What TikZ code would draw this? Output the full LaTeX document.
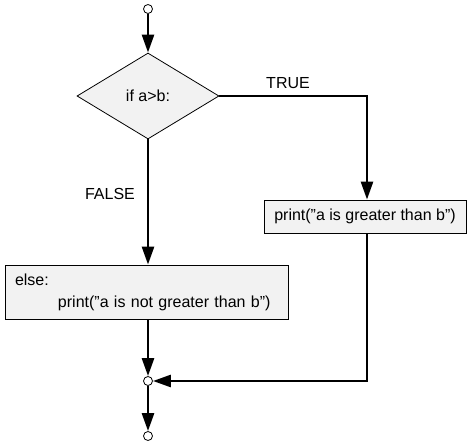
\documentclass[tikz,border=0pt]{standalone}
\usepackage{fontspec}
\setmainfont{Liberation Sans}
\usetikzlibrary{shapes.geometric,arrows.meta}

\begin{document}
\begin{tikzpicture}[x=1pt,y=-1pt,
        font=\fontsize{16}{22}\selectfont,
        block/.style={draw,line width=0.8pt,fill=black!5,inner sep=0pt},
        joint/.style={circle,draw,line width=0.8pt,fill=white,minimum size=9pt,inner sep=0pt},
        flow/.style={line width=2.6pt,-{Triangle[length=18pt,width=12pt]}}]
    \useasboundingbox (0,0) rectangle (474,446);
    \node[joint] (start) at (148,9) {};
    \node[block,diamond,minimum width=142pt,minimum height=86pt] (cond) at (148,96) {if a>b:};
    \coordinate (turn) at (367,96);
    \node (truelbl) at (288,83) {TRUE};
    \node (falselbl) at (110,194) {FALSE};
    \node[block,minimum width=202pt,minimum height=33pt] (truebox) at (365,216.5)
        {print("a is greater than b")};
    \node[block,text width=263pt,inner xsep=10pt,minimum height=54pt,align=left] (elsebox) at (146.5,292)
        {else:\\\hspace*{43pt}print("a is not greater than b")};
    \node[joint] (merge) at (148,381) {};
    \node[joint] (stop) at (148,436) {};

    \draw[flow] (start) -- (cond);
    \draw[flow] (cond.east) -- (turn) -- (turn |- truebox.north);
    \draw[flow] (cond.south) -- (cond.south |- elsebox.north);
    \draw[flow] (elsebox.south -| merge) -- (merge);
    \draw[flow] (turn |- truebox.south) -- (turn |- merge) -- (merge);
    \draw[flow] (merge) -- (stop);
\end{tikzpicture}
\end{document}
